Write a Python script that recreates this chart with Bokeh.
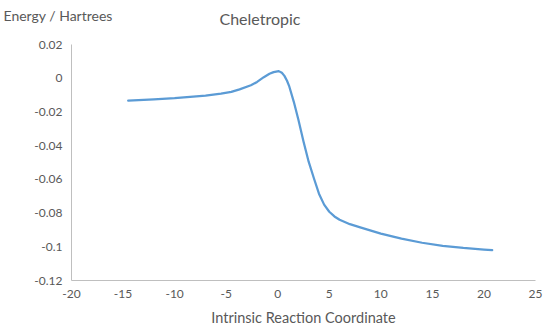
from bokeh.plotting import figure
from bokeh.models import Title, FixedTicker, CustomJSTickFormatter, Range1d
from bokeh.embed import file_html
from bokeh.resources import INLINE

# Data (IRC coordinate vs energy)
irc_x = [-14.5, -12, -10, -8.8, -7, -5.5, -4.5, -3.7, -2.6, -2.0, -1.35, -0.8,
         -0.4, 0.1, 0.4, 0.65, 0.9, 1.1, 1.56, 2.0, 2.5, 3.0, 3.5, 4.0, 4.5,
         5.0, 5.5, 6.0, 7.0, 8.0, 10, 12, 14, 16, 18, 20, 20.8]
energy = [-0.0133, -0.0125, -0.0118, -0.0112, -0.0103, -0.0091, -0.0081,
          -0.0066, -0.0042, -0.0022, 0.0006, 0.0026, 0.0036, 0.0042, 0.0032,
          0.0014, -0.0015, -0.0045, -0.0140, -0.0245, -0.0375, -0.0495,
          -0.0592, -0.0685, -0.0750, -0.0792, -0.0820, -0.0840, -0.0866,
          -0.0885, -0.0922, -0.0952, -0.0976, -0.0994, -0.1007, -0.1017,
          -0.1020]

x_ticks = [-20, -15, -10, -5, 0, 5, 10, 15, 20, 25]
y_ticks = [-0.12, -0.1, -0.08, -0.06, -0.04, -0.02, 0.0, 0.02]

title_text = "Cheletropic"
y_label_text = "Energy / Hartrees"
x_label_text = "Intrinsic Reaction Coordinate"

FONT = "Lato"
TXT = "#595959"
AXC = "#BFBFBF"

p = figure(width=548, height=332, output_backend="svg", toolbar_location=None,
           x_range=Range1d(-20, 25), y_range=Range1d(-0.12, 0.02),
           min_border_left=71, min_border_right=13, min_border_top=44,
           min_border_bottom=52)
p.outline_line_color = None
p.xgrid.grid_line_color = None
p.ygrid.grid_line_color = None
p.background_fill_color = "white"
p.border_fill_color = "white"

p.line(irc_x, energy, line_color="#5B9BD5", line_width=2.25,
       line_join="round", line_cap="round")

fmt = CustomJSTickFormatter(code="return String(Number(tick.toFixed(2)));")
for ax, ticks in ((p.xaxis[0], x_ticks), (p.yaxis[0], y_ticks)):
    ax.ticker = FixedTicker(ticks=ticks)
    ax.formatter = fmt
    ax.axis_line_color = AXC
    ax.axis_line_width = 1
    ax.major_tick_line_color = None
    ax.minor_tick_line_color = None
    ax.major_tick_out = 0
    ax.major_tick_in = 0
    ax.major_label_text_font = FONT
    ax.major_label_text_font_size = "12px"
    ax.major_label_text_color = TXT

p.xaxis.major_label_standoff = 9
p.yaxis.major_label_standoff = 9
p.xaxis.axis_label = x_label_text
p.xaxis.axis_label_text_font = FONT
p.xaxis.axis_label_text_font_size = "14.5px"
p.xaxis.axis_label_text_font_style = "normal"
p.xaxis.axis_label_text_color = TXT
p.xaxis.axis_label_standoff = 8

# main title: zero-height panel row, text placed above the frame
p.title.text = title_text
p.title.align = "left"
p.title.offset = 148
p.title.vertical_align = "top"
p.title.standoff = -71
p.title.text_font = FONT
p.title.text_font_size = "16px"
p.title.text_font_style = "normal"
p.title.text_color = TXT

# y-axis caption at top-left, also a zero-height title row
p.add_layout(Title(text=y_label_text, align="left", offset=-68,
                   vertical_align="top", standoff=-76,
                   text_font=FONT, text_font_size="14px",
                   text_font_style="normal", text_color=TXT), "above")

open("out.html", "w").write(file_html(p, INLINE))
